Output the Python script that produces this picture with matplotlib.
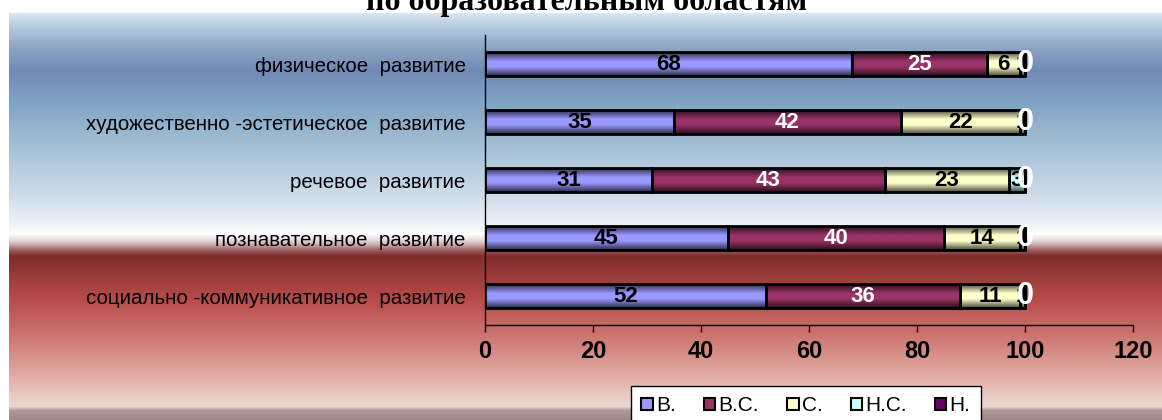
import matplotlib
matplotlib.use("Agg")
import matplotlib.pyplot as plt
import numpy as np
from matplotlib.colors import LinearSegmentedColormap, to_rgb
from matplotlib.patches import Patch


# =========================================================
# Data
# =========================================================
CATEGORIES = [
    "социально -коммуникативное  развитие",
    "познавательное  развитие",
    "речевое  развитие",
    "художественно -эстетическое  развитие",
    "физическое  развитие",
]
SERIES_NAMES = ["В.", "В.С.", "С.", "Н.С.", "Н."]
VAL_V  = [52, 45, 31, 35, 68]
VAL_VS = [36, 40, 43, 42, 25]
VAL_S  = [11, 14, 23, 22, 6]
VAL_NS = [1, 1, 3, 1, 1]
VAL_N  = [0, 0, 0, 0, 0]
X_TICKS = [0, 20, 40, 60, 80, 100, 120]
TITLE = "по образовательным областям"

# =========================================================
# Style
# =========================================================
W, H = 1162, 420
COLORS = ["#9999FF", "#993366", "#FFFFCC", "#CCFFFF", "#660066"]
LABEL_COLORS = ["black", "white", "black", "black", "white"]
BAR_H = 0.4

# background gradient stops: (pixel row, colour)
BG_STOPS = [
    (13, "#dae6f0"), (25, "#b8cde0"), (45, "#8fa9c6"), (70, "#7189b4"),
    (95, "#7b9fc0"), (140, "#9fbcd4"), (190, "#c9d9e7"), (225, "#eef3f8"),
    (234, "#ffffff"), (240, "#e8dcdc"), (245, "#c8a8a8"), (250, "#a06060"),
    (256, "#7f2d2d"), (300, "#b84c4a"), (335, "#cc7470"), (370, "#dea49c"),
    (400, "#ead0c8"), (407, "#ecd8d0"), (411, "#b09898"), (420, "#a08888"),
]

plt.rcParams["font.family"] = ["Liberation Sans", "DejaVu Sans"]

fig = plt.figure(figsize=(W / 100, H / 100), dpi=100)

# ---- background ----
bg = fig.add_axes([9 / W, 0, 1 - 9 / W, (H - 13) / H], zorder=-10)
rows = np.arange(13, H + 1)
pos = [p for p, c in BG_STOPS]
rgb = np.array([to_rgb(c) for p, c in BG_STOPS])
grad = np.stack([np.interp(rows, pos, rgb[:, k]) for k in range(3)], axis=-1)
bg.imshow(grad[:, None, :], aspect="auto", extent=[0, 1, 0, 1])
bg.axis("off")

fig.text(587 / W, 1 - 10 / H, TITLE, ha="center", va="baseline",
         family="Liberation Serif", weight="bold", fontsize=23)

# ---- main axes ----
ax = fig.add_axes([485 / W, 1 - 325 / H, (1133 - 485) / W, 290 / H])
ax.patch.set_alpha(0)

series = [VAL_V, VAL_VS, VAL_S, VAL_NS, VAL_N]
y = np.arange(len(CATEGORIES))
left = np.zeros(len(CATEGORIES))

for vals, col, lcol, name in zip(series, COLORS, LABEL_COLORS, SERIES_NAMES):
    vals = np.array(vals, dtype=float)
    base = np.array(to_rgb(col))
    dark = base * 0.3
    cmap = LinearSegmentedColormap.from_list(
        "g", [(0, dark), (0.38, base), (0.62, base), (1, dark)])
    for i in range(len(y)):
        if vals[i] > 0:
            ax.imshow(np.linspace(0, 1, 50)[:, None], cmap=cmap, aspect="auto",
                      extent=[left[i], left[i] + vals[i], y[i] - BAR_H / 2, y[i] + BAR_H / 2],
                      interpolation="bilinear", zorder=2)
    ax.barh(y, vals, left=left, height=BAR_H, fill=False, edgecolor="black",
            linewidth=2, zorder=3)
    for i in range(len(y)):
        cx = left[i] + vals[i] / 2
        if name == "Н.":
            ax.text(cx, y[i], f"{int(vals[i])}", ha="center", va="center",
                    color="white", weight="bold", fontsize=22, zorder=6)
        else:
            ax.text(cx, y[i], f"{int(vals[i])}", ha="center", va="center",
                    color=lcol, weight="bold", fontsize=16, zorder=5)
    left += vals

ax.set_xlim(0, 120)
ax.set_ylim(-0.5, len(CATEGORIES) - 0.5)
ax.set_xticks(X_TICKS)
ax.set_xticklabels([str(t) for t in X_TICKS], fontsize=17, weight="bold")
ax.set_yticks(y)
ax.set_yticklabels(CATEGORIES, fontsize=14.8)
ax.tick_params(axis="y", length=0, pad=14)
ax.tick_params(axis="x", direction="out", length=5, width=1, pad=6)
for s in ["top", "right"]:
    ax.spines[s].set_visible(False)
ax.spines["left"].set_linewidth(1)
ax.spines["bottom"].set_linewidth(1)

# ---- legend ----
handles = [Patch(facecolor=c, edgecolor="black", linewidth=1.5) for c in COLORS]
leg = fig.legend(handles, SERIES_NAMES, loc="upper left",
                 bbox_to_anchor=(631 / W, 1 - 386 / H), ncol=5, fontsize=15,
                 frameon=True, fancybox=False, framealpha=1, edgecolor="black",
                 handlelength=0.55, handleheight=0.55, handletextpad=0.15,
                 columnspacing=1.35, borderpad=0.5, borderaxespad=0)
leg.get_frame().set_linewidth(1)

fig.savefig("out.png", dpi=100)
